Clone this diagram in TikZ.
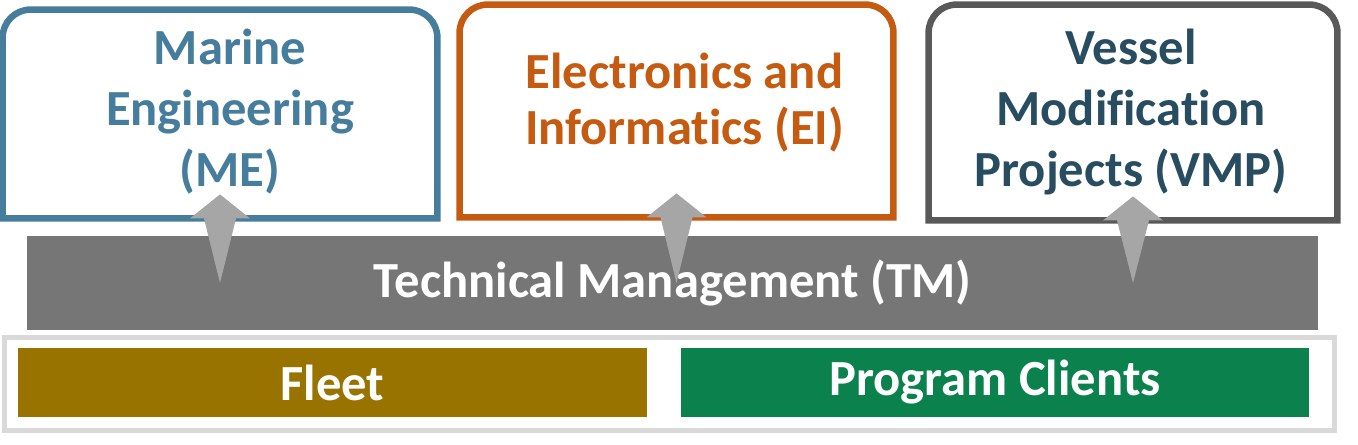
\documentclass[tikz,border=0pt]{standalone}
\usepackage{fontspec}
\setmainfont{Carlito}[Ligatures=NoCommon]
\usetikzlibrary{positioning, calc}

\definecolor{meblue}{RGB}{70,124,156}
\definecolor{eiorange}{RGB}{197,90,17}
\definecolor{vmpgrey}{RGB}{89,89,89}
\definecolor{vmptext}{RGB}{40,76,96}
\definecolor{tmgrey}{RGB}{118,118,118}
\definecolor{arrowgrey}{RGB}{166,166,166}
\definecolor{framegrey}{RGB}{217,217,217}
\definecolor{fleetgold}{RGB}{153,115,0}
\definecolor{clientgreen}{RGB}{11,130,78}

\begin{document}
\begin{tikzpicture}[
  x=0.5pt, y=0.5pt,
  area/.style={inner sep=0pt, minimum width=#1},
  lbl/.style={align=center, font=\bfseries\fontsize{25.3}{30.5}\selectfont},
  bar/.style={inner sep=0pt, text=white, font=\bfseries\fontsize{25.3}{30.5}\selectfont},
  upar/.style={fill=arrowgrey}
]
\useasboundingbox (0,0) rectangle (1358,444);

% three departments on top
\node[area=217pt, minimum height=104pt] (me) at (220,330) {};
\node[area=216.5pt, minimum height=106pt] (ei) at (676.5,333) {};
\node[area=204pt, minimum height=107.5pt] (vmp) at (1133,331.5) {};

\foreach \n/\c in {me/meblue, ei/eiorange, vmp/vmpgrey}
  \draw[draw=\c, line width=3.25pt] (\n.south west) -- ([yshift=-14pt]\n.north west)
    arc[start angle=180, end angle=90, radius=14pt] -- ([xshift=-14pt]\n.north east)
    arc[start angle=90, end angle=0, radius=14pt] -- (\n.south east) -- cycle;

\node[lbl, text=meblue] (metxt) at (230,332) {Marine\\Engineering\\(ME)};
\node[lbl, text=eiorange, font=\bfseries\fontsize{25.3}{28}\selectfont] (eitxt) at (684.5,341) {Electronics and\\Informatics (EI)};
\node[lbl, text=vmptext] (vmptxt) at (1131,332) {Vessel\\Modification\\Projects (VMP)};

% management bar
\node[bar, fill=tmgrey, minimum width=645.5pt, minimum height=47pt] (tm) at (672.5,161) {Technical Management (TM)};

% base: fleet and clients
\node[draw=framegrey, line width=2.5pt, inner sep=0pt, minimum width=664.75pt, minimum height=46.5pt] (base) at (669.25,60) {};
\node[bar, fill=fleetgold, minimum width=314.5pt, minimum height=34.5pt] (fleet) at (332.5,61.5) {Fleet};
\node[bar, fill=clientgreen, minimum width=314pt, minimum height=34.5pt] (clients) at (995,61.5) {Program Clients};

% arrows up from TM
\foreach \n in {me,ei,vmp}
  \fill[upar] ([yshift=12pt]\n.south) -- ++(-15pt,-12pt) -- ++(7pt,0) -- (\n.south |- tm.center)
    -- ([xshift=8pt]\n.south) -- ++(7pt,0) -- cycle;
\end{tikzpicture}
\end{document}
